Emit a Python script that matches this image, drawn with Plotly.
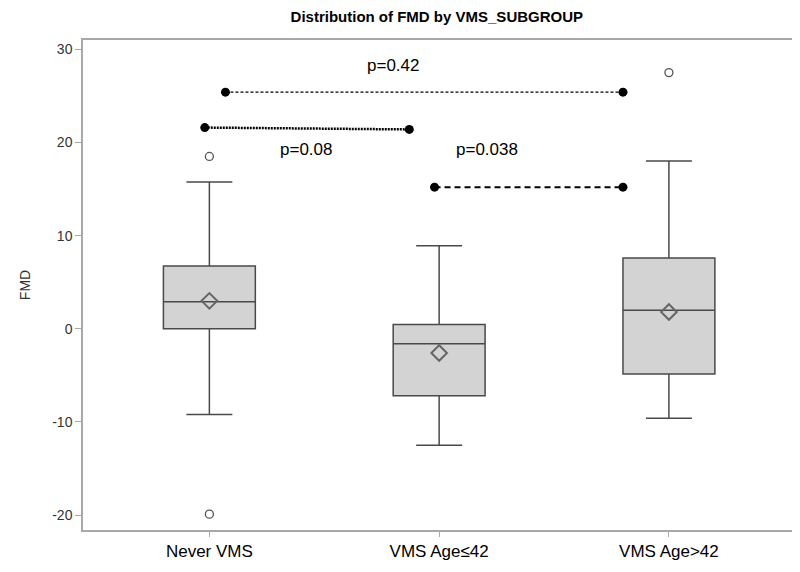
"""Box plot of FMD by VMS subgroup with pairwise p-value brackets."""
import plotly.graph_objects as go

# Summary statistics
groups = ['Never VMS', 'VMS Age≤42', 'VMS Age>42']
q1 = [0.0, -7.2, -4.85]
median = [2.9, -1.6, 2.0]
q3 = [6.75, 0.45, 7.6]
whisker_lo = [-9.2, -12.5, -9.6]
whisker_hi = [15.75, 8.9, 18.0]
means = [3.0, -2.6, 1.8]

# Outliers: (group index, value)
outlier_group = [0, 0, 2]
outlier_value = [18.5, -19.9, 27.5]

# Pairwise comparisons: start/end x (category units), y levels, label
cmp_x0 = [0.07, -0.02, 0.98]
cmp_x1 = [1.80, 0.87, 1.80]
cmp_y0 = [25.4, 21.6, 15.2]
cmp_y1 = [25.4, 21.4, 15.2]
cmp_width = [1.3, 2.5, 2.0]
cmp_dash = ['3px,2px', '2px,1px', '6px,4px']
cmp_label = ['p=0.42', 'p=0.08', 'p=0.038']
label_x = [0.80, 0.42, 1.21]
label_y = [28.3, 19.2, 19.2]

y_ticks = [-20, -10, 0, 10, 20, 30]
y_ticktext = ['-20', '-10', '0', '10', '20', '30']

fig = go.Figure()

for i, g in enumerate(groups):
    fig.add_trace(go.Box(
        x=[i], q1=[q1[i]], median=[median[i]], q3=[q3[i]],
        lowerfence=[whisker_lo[i]], upperfence=[whisker_hi[i]],
        width=0.4, whiskerwidth=0.5,
        fillcolor='#d3d3d3', line=dict(color='#4a4a4a', width=1.5),
        boxpoints=False, showlegend=False, hoverinfo='skip',
    ))

# mean markers
fig.add_trace(go.Scatter(
    x=list(range(len(groups))), y=means, mode='markers',
    marker=dict(symbol='diamond-open', size=12, color='#666666', line=dict(width=2)),
    showlegend=False,
))

# outliers
fig.add_trace(go.Scatter(
    x=outlier_group, y=outlier_value, mode='markers',
    marker=dict(symbol='circle-open', size=8, color='#555555', line=dict(width=1.3)),
    showlegend=False,
))

# comparison brackets
for x0, x1, y0, y1, w, d in zip(cmp_x0, cmp_x1, cmp_y0, cmp_y1, cmp_width, cmp_dash):
    fig.add_trace(go.Scatter(
        x=[x0, x1], y=[y0, y1], mode='lines+markers',
        line=dict(color='black', width=w, dash=d),
        marker=dict(symbol='circle', size=9, color='black'),
        showlegend=False,
    ))

for lx, ly, t in zip(label_x, label_y, cmp_label):
    fig.add_annotation(x=lx, y=ly, text=t, showarrow=False,
                       font=dict(family='Liberation Sans, Arial', size=17, color='black'))

# the page body adds an 8px offset, so margins are shifted to compensate
fig.update_layout(
    width=800, height=572,
    margin=dict(l=75, r=15, t=32, b=50),
    paper_bgcolor='white', plot_bgcolor='white',
    title=dict(text='<b>Distribution of FMD by VMS_SUBGROUP</b>', x=0.536, xanchor='center',
               y=0.984, yanchor='middle',
               font=dict(family='Liberation Sans Narrow, Liberation Sans, Arial', size=15, color='black')),
    font=dict(family='Liberation Sans, Arial', color='#333333'),
)

fig.update_xaxes(
    range=[-0.55, 2.54], tickvals=list(range(len(groups))), ticktext=groups,
    showgrid=False, zeroline=False, showline=True, mirror=True, automargin=False,
    linecolor='#a8a8a8', linewidth=1.5, ticks='outside', ticklen=5, tickcolor='#a8a8a8',
    tickfont=dict(size=17, color='black'),
)
fig.update_yaxes(
    range=[-21.6, 31.0], tickvals=y_ticks, ticktext=y_ticktext,
    showgrid=False, zeroline=False, showline=True, mirror=True, automargin=False,
    linecolor='#a8a8a8', linewidth=1.5, ticks='outside', ticklen=6, tickcolor='#a8a8a8',
    tickfont=dict(size=14, color='#333333'),
    title=dict(text='FMD', font=dict(size=14, color='#333333'), standoff=18),
)

fig.write_html('out.html')
